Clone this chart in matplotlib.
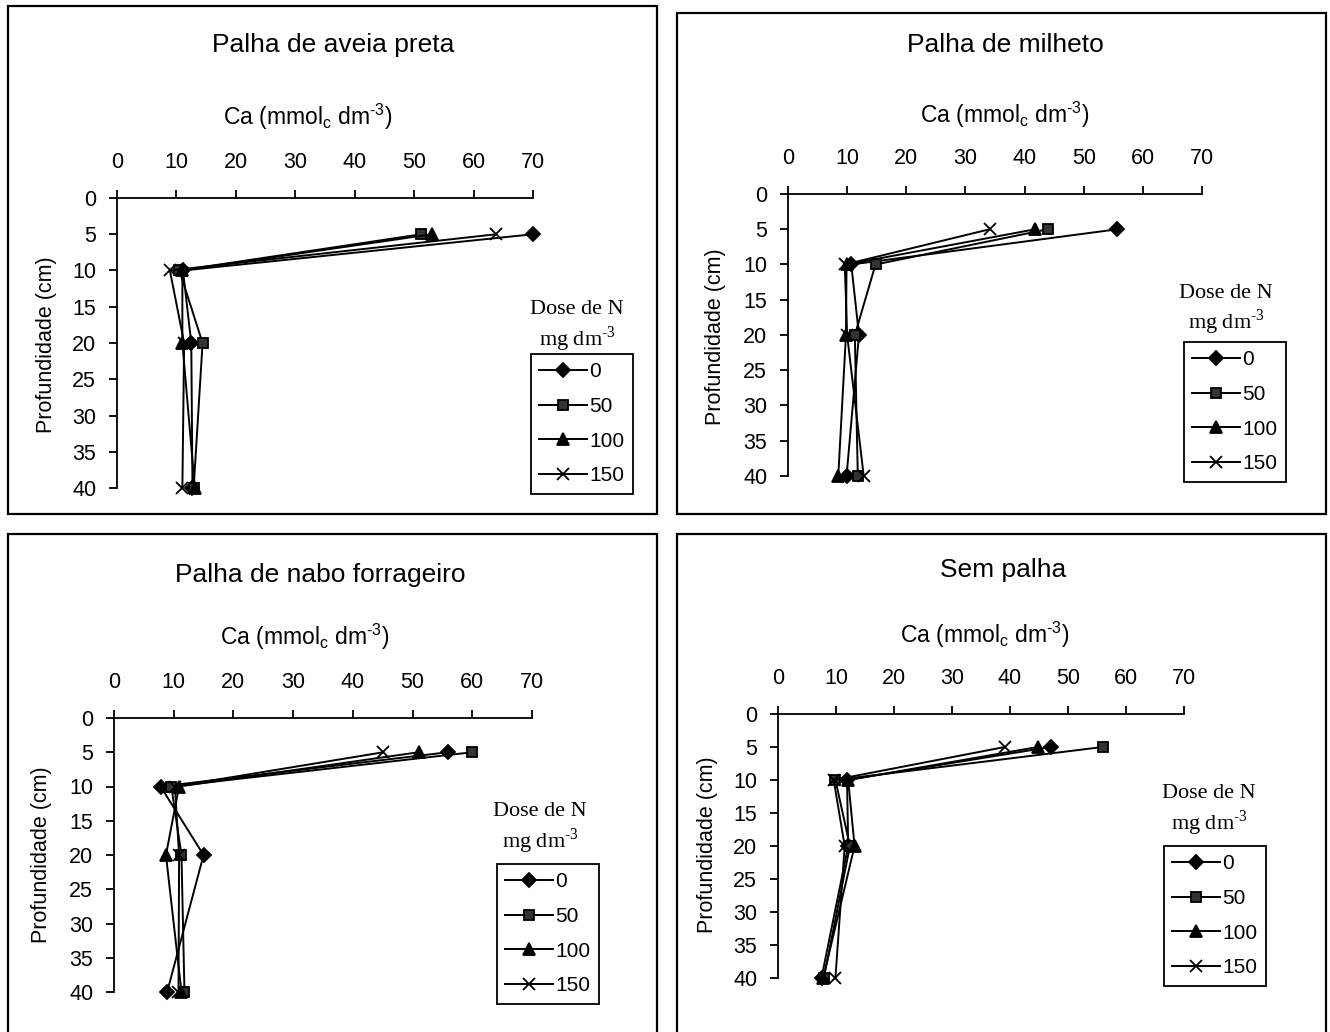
import numpy as np
import matplotlib
matplotlib.use("Agg")
from matplotlib import pyplot as plt
from matplotlib.patches import Rectangle

plt.rcParams['font.family'] = ['Liberation Sans', 'DejaVu Sans']
plt.rcParams['mathtext.fontset'] = 'custom'
plt.rcParams['mathtext.rm'] = 'Liberation Sans'

# dados: Ca (mmolc dm-3) por profundidade, para cada dose de N
profundidade = [5, 10, 20, 40]
doses = ['0', '50', '100', '150']
titulos = ['Palha de aveia preta', 'Palha de milheto',
           'Palha de nabo forrageiro', 'Sem palha']

aveia_0 = [70.0, 11.1, 12.5, 12.7]
aveia_50 = [51.2, 10.5, 14.4, 12.9]
aveia_100 = [53.0, 11.0, 11.0, 13.1]
aveia_150 = [63.8, 8.9, 11.3, 11.0]

milheto_0 = [55.7, 10.7, 12.0, 9.9]
milheto_50 = [43.9, 14.8, 11.3, 11.8]
milheto_100 = [41.8, 9.9, 9.8, 8.5]
milheto_150 = [34.1, 9.6, 10.0, 12.8]

nabo_0 = [55.9, 7.8, 15.0, 8.9]
nabo_50 = [60.0, 9.6, 11.3, 11.8]
nabo_100 = [51.0, 10.9, 8.7, 11.3]
nabo_150 = [45.1, 10.2, 10.9, 10.8]

sem_0 = [47.0, 11.9, 12.1, 7.5]
sem_50 = [56.0, 9.9, 12.4, 7.9]
sem_100 = [44.8, 12.1, 13.2, 7.8]
sem_150 = [39.1, 9.6, 11.5, 9.9]

series = [
    [aveia_0, aveia_50, aveia_100, aveia_150],
    [milheto_0, milheto_50, milheto_100, milheto_150],
    [nabo_0, nabo_50, nabo_100, nabo_150],
    [sem_0, sem_50, sem_100, sem_150],
]

# layout em pixels (imagem 1330x1032)
W, H = 1330, 1032
eixos = [(117, 198, 533, 488), (788, 194, 1202, 476),
         (114, 718, 532, 992), (778, 714, 1184, 978)]
caixas = [(8, 6, 657, 514), (677, 13, 1326, 514),
          (8, 534, 657, 1045), (677, 534, 1326, 1045)]
pos_titulo = [(333, 45), (1005, 45), (320, 575), (1003, 570)]
pos_xlabel = [(308, 117), (1005, 115), (305, 637), (985, 635)]
pos_ylabel = [(47, 345), (716, 337), (42, 855), (708, 845)]
pos_legtit = [(577, 310), (1226, 293), (540, 812), (1209, 794)]
pos_leg = [(531, 354), (1184, 342), (497, 864), (1164, 846)]

marcadores = ['D', 's', '^', 'x']
faces = ['black', '#333333', 'black', 'black']
tamanhos = [7.5, 7, 8.5, 9]


def fx(x):
    return x / W


def fy(y):
    return 1 - y / H


fig = plt.figure(figsize=(13.3, 10.32), dpi=100)

for i in range(4):
    x0, y0, x1, y1 = caixas[i]
    fig.patches.append(Rectangle((fx(x0), fy(y1)), fx(x1 - x0), (y1 - y0) / H,
                                 transform=fig.transFigure, fill=False,
                                 edgecolor='black', linewidth=1.6))

    a0, b0, a1, b1 = eixos[i]
    ax = fig.add_axes([fx(a0), fy(b1), fx(a1 - a0), (b1 - b0) / H])
    for j in range(4):
        ax.plot(series[i][j], profundidade, color='black', linewidth=1.4,
                marker=marcadores[j], markersize=tamanhos[j],
                markerfacecolor=faces[j], markeredgecolor='black',
                markeredgewidth=1.3, label=doses[j], clip_on=False)

    ax.set_xlim(0, 70)
    ax.set_ylim(40, 0)
    ax.set_xticks(np.arange(0, 71, 10))
    ax.set_yticks(np.arange(0, 41, 5))
    ax.xaxis.tick_top()
    ax.spines['right'].set_visible(False)
    ax.spines['bottom'].set_visible(False)
    ax.spines['top'].set_linewidth(1.3)
    ax.spines['left'].set_linewidth(1.3)
    ax.tick_params(axis='x', direction='out', length=6, width=1.3,
                   labelsize=15.5, pad=12)
    ax.tick_params(axis='y', direction='out', length=6, width=1.3,
                   labelsize=15.5, pad=9)
    ax.patch.set_alpha(0)

    tx, ty = pos_titulo[i]
    fig.text(fx(tx), fy(ty), titulos[i], ha='center', va='center', fontsize=19)
    lx, ly = pos_xlabel[i]
    fig.text(fx(lx), fy(ly), 'Ca (mmol$_\\mathregular{c}$ dm$^\\mathregular{\u20103}$)',
             ha='center', va='center', fontsize=16.5)
    yx, yy = pos_ylabel[i]
    fig.text(fx(yx), fy(yy), 'Profundidade (cm)', ha='center', va='center',
             rotation=90, fontsize=15.5)
    gx, gy = pos_legtit[i]
    fig.text(fx(gx), fy(gy), 'Dose de N', ha='center', va='center',
             fontsize=16, family='Liberation Serif')
    fig.text(fx(gx), fy(gy + 29), 'mg dm$^\\mathregular{\u20103}$', ha='center',
             va='center', fontsize=16, family='Liberation Serif')

    px, py = pos_leg[i]
    leg = ax.legend(loc='upper left', bbox_to_anchor=(fx(px), fy(py)),
                    bbox_transform=fig.transFigure, fontsize=15,
                    frameon=True, fancybox=False, borderaxespad=0,
                    handlelength=2.3, handletextpad=0.1, labelspacing=0.75,
                    borderpad=0.4, framealpha=1)
    leg.get_frame().set_edgecolor('black')
    leg.get_frame().set_linewidth(1.3)

fig.savefig('out.png', dpi=100)
